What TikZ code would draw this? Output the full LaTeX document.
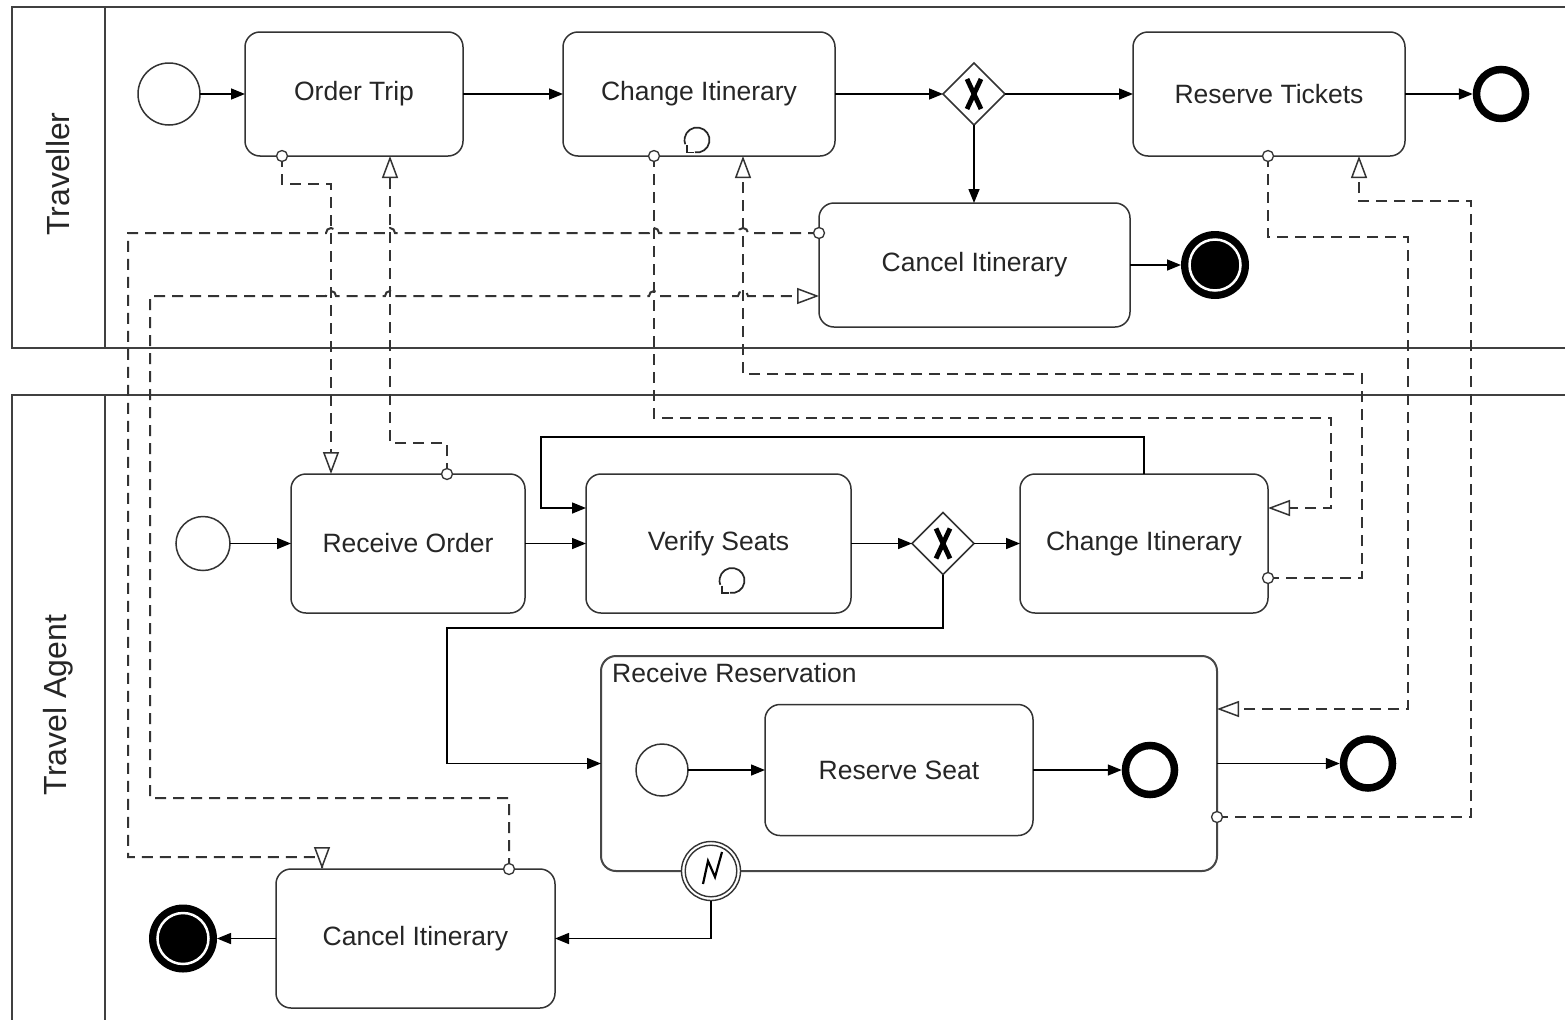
\documentclass[tikz,border=0pt]{standalone}
\usepackage{fontspec}
\setmainfont{Liberation Sans}
\usetikzlibrary{arrows.meta,shapes.geometric,calc}
\begin{document}
\begin{tikzpicture}[x=1pt,y=-1pt,
  font=\fontsize{26.5}{30}\selectfont,
  every node/.style={text=black!85},
  task/.style={draw=black!80, line width=1.5pt, rounded corners=15pt, fill=white, inner sep=0pt, outer sep=0pt, align=center},
  startev/.style={circle, draw=black!80, line width=1.5pt, fill=white, inner sep=0pt, outer sep=0pt},
  endev/.style={circle, draw=black, line width=7.5pt, fill=white, inner sep=0pt, minimum size=49pt},
  termev/.style={circle, fill=black, inner sep=0pt, outer sep=0pt, minimum size=68pt,
    path picture={\draw[white,line width=2.5pt] (path picture bounding box.center) circle[radius=25.5pt];}},
  gateway/.style={diamond, draw=black!80, line width=1.5pt, fill=white, inner sep=0pt, outer sep=0pt, minimum width=62pt, minimum height=62pt},
  xmark/.style={draw=black, line width=4.8pt},
  seq/.style={draw=black, line width=1.5pt, -{Triangle[length=14pt,width=11pt]}},
  msgline/.style={draw=black!80, line width=2pt, dash pattern=on 11pt off 7pt},
  msg/.style={msgline, -{Triangle[fill=white,length=22pt,width=16pt,line width=1.5pt]}},
  msgtip/.style={draw=black!80, line width=1.5pt, -{Triangle[fill=white,length=22pt,width=16pt,line width=1.5pt]}},
  msgdot/.style={draw=black!80, line width=1.3pt, fill=white},
  pool/.style={draw=black!75, line width=2.5pt},
  loopm/.style={draw=black!85, line width=1.7pt},
  lanelabel/.style={rotate=90, font=\fontsize{32}{36}\selectfont, inner sep=0pt}
]
\useasboundingbox (0,0) rectangle (1565,1020);
\fill[white] (0,0) rectangle (1565,1020);

% pools
\draw[pool] (1565,7) -- (12,7) -- (12,348) -- (1565,348);
\draw[pool] (105,7) -- (105,348);
\draw[pool] (1565,395) -- (12,395) -- (12,1020);
\draw[pool] (105,395) -- (105,1020);
\node[lanelabel] (ltrav) at (58,174) {Traveller};
\node[lanelabel] (lagent) at (58,705) {Travel Agent};

% Traveller lane
\node[startev, minimum size=62pt] (st1) at (169,94) {};
\node[task, minimum width=218pt, minimum height=124pt] (ot) at (354,94) {Order Trip};
\node[task, minimum width=272pt, minimum height=124pt] (ci1) at (699,94) {Change Itinerary};
\node[gateway] (gw1) at (974,94) {};
\node[task, minimum width=272pt, minimum height=124pt] (rt) at (1269,94) {Reserve Tickets};
\node[endev] (end1) at (1501,94) {};
\node[task, minimum width=311pt, minimum height=124pt] (ci2) at (974.5,265) {Cancel Itinerary};
\node[termev] (term1) at (1215,265) {};

% Travel Agent lane
\node[startev, minimum size=54pt] (st2) at (203,543.5) {};
\node[task, minimum width=234pt, minimum height=139pt] (ro) at (408,543.5) {Receive Order};
\node[task, minimum width=265pt, minimum height=139pt] (vs) at (718.5,543.5) {Verify Seats};
\node[gateway] (gw2) at (943,543.5) {};
\node[task, minimum width=248pt, minimum height=139pt] (ci3) at (1144,543.5) {Change Itinerary};
\node[task, draw=black!72, line width=2pt, minimum width=616pt, minimum height=215pt] (rr) at (909,763.5) {};
\node[anchor=north west, inner sep=0pt] (rrl) at (612,663) {Receive Reservation};
\node[startev, minimum size=52pt] (st3) at (662,770) {};
\node[task, minimum width=268pt, minimum height=131pt] (rs) at (899,770) {Reserve Seat};
\node[endev] (end2) at (1150,770) {};
\node[endev] (end3) at (1368,763.5) {};
\node[circle, draw=black!80, line width=1.4pt, fill=white, minimum size=59pt, inner sep=0pt, outer sep=0pt,
  path picture={\draw[black!80,line width=1.4pt] (path picture bounding box.center) circle[radius=25.8pt];}] (bev) at (711,871) {};
\node[task, minimum width=279pt, minimum height=139pt] (ci4) at (415.5,938.5) {Cancel Itinerary};
\node[termev] (term2) at (183,938.5) {};

% gateway marks
\draw[xmark] ($(gw1)+(-7,-15)$) -- ($(gw1)+(7,15)$) ($(gw1)+(7,-15)$) -- ($(gw1)+(-7,15)$);
\draw[xmark] ($(gw2)+(-7,-15)$) -- ($(gw2)+(7,15)$) ($(gw2)+(7,-15)$) -- ($(gw2)+(-7,15)$);

% loop markers
\draw[loopm] ($(ci1)+(-2,46)$) ++(100:12.5) arc(100:-200:12.5);
\draw[loopm] ($(ci1)+(-12,51)$) -- ($(ci1)+(-12,58.5)$) -- ($(ci1)+(-5,58.5)$);
\draw[loopm] ($(vs)+(13.5,37)$) ++(100:12.5) arc(100:-200:12.5);
\draw[loopm] ($(vs)+(3.5,42)$) -- ($(vs)+(3.5,49.5)$) -- ($(vs)+(10.5,49.5)$);

% lightning in boundary event
\draw[black, line width=2.2pt, line join=miter] ($(bev)+(-8,13)$) -- ($(bev)+(-3,-10)$) -- ($(bev)+(4,6)$) -- ($(bev)+(11,-19)$);

% sequence flows
\draw[seq] (st1) -- (ot);
\draw[seq] (ot) -- (ci1);
\draw[seq] (ci1) -- (gw1);
\draw[seq] (gw1) -- (rt);
\draw[seq] (rt) -- (end1);
\draw[seq] (gw1.south) -- (gw1.south |- ci2.north);
\draw[seq] (ci2) -- (term1);
\draw[seq] (st2) -- (ro);
\draw[seq] (ro) -- (vs);
\draw[seq] (vs) -- (gw2);
\draw[seq] (gw2) -- (ci3);
\draw[seq] (ci3.north) -- ++(0,-37) -- ++(-603,0) |- ($(vs.west)+(0,-35.5)$);
\draw[seq] (gw2.south) -- ++(0,53.5) -- ++(-496,0) |- (rr.west);
\draw[seq] (st3) -- (rs);
\draw[seq] (rs) -- (end2);
\draw[seq] (rr) -- (end3);
\draw[seq] (bev.south) |- (ci4.east);
\draw[seq] (ci4) -- (term2);

% message flows
% F1 Order Trip -> Receive Order
\draw[msg] ($(ot.south)+(-72,0)$) -- ++(0,28) -- ++(49,0) -- ($(ro.north)+(-77,0)$);
% F2 Receive Order -> Order Trip
\draw[msg] ($(ro.north)+(39,0)$) -- ++(0,-31) -- ++(-57,0) -- ($(ot.south)+(36,0)$);
% F3 Change Itinerary (T) -> Change Itinerary (A)
\draw[msg] ($(ci1.south)+(-45,0)$) -- ++(0,262) -- ++(677,0) |- ($(ci3.east)+(0,-35.5)$);
% F4 Change Itinerary (A) -> Change Itinerary (T)
\draw[msg] ($(ci3.east)+(0,34.5)$) -- ++(94,0) -- ++(0,-204) -- ++(-619,0) -- ($(ci1.south)+(44,0)$);
% F5 Cancel Itinerary (T) -> Cancel Itinerary (A)
\draw[msgline] ($(ci2.west)+(0,-32)$) -- (748,233) arc(0:-180:5) -- (659,233) arc(0:-180:5)
  -- (395,233) arc(0:-180:5) -- (336,233) arc(0:-180:5) -- (128,233) -- (128,857)
  -- ($(ci4.north)+(-93.5,-12)$) -- ($(ci4.north)+(-93.5,0)$);
\draw[msgtip] ($(ci4.north)+(-93.5,-22)$) -- ($(ci4.north)+(-93.5,0)$);
% F6 Cancel Itinerary (A) -> Cancel Itinerary (T)
\draw[msg] ($(ci4.north)+(93.5,0)$) -- ++(0,-71) -- (150,798) -- (150,296) -- (326,296) arc(180:360:5)
  -- (385,296) arc(180:360:5) -- (649,296) arc(180:360:5) -- (738,296) arc(180:360:5)
  -- ($(ci2.west)+(0,31)$);
% F7 Reserve Tickets -> Receive Reservation
\draw[msg] ($(rt.south)+(-1,0)$) -- ++(0,81) -- ++(140,0) |- ($(rr.east)+(0,-54.5)$);
% F8 Receive Reservation -> Reserve Tickets
\draw[msg] ($(rr.east)+(0,53.5)$) -- ++(254,0) -- ++(0,-616) -- ++(-112,0) -- ($(rt.south)+(90,0)$);

% message flow start circles
\draw[msgdot] ($(ot.south)+(-72,0)$) circle[radius=5.5pt];
\draw[msgdot] ($(ro.north)+(39,0)$) circle[radius=5.5pt];
\draw[msgdot] ($(ci1.south)+(-45,0)$) circle[radius=5.5pt];
\draw[msgdot] ($(ci3.east)+(0,34.5)$) circle[radius=5.5pt];
\draw[msgdot] ($(ci2.west)+(0,-32)$) circle[radius=5.5pt];
\draw[msgdot] ($(ci4.north)+(93.5,0)$) circle[radius=5.5pt];
\draw[msgdot] ($(rt.south)+(-1,0)$) circle[radius=5.5pt];
\draw[msgdot] ($(rr.east)+(0,53.5)$) circle[radius=5.5pt];
\end{tikzpicture}
\end{document}
